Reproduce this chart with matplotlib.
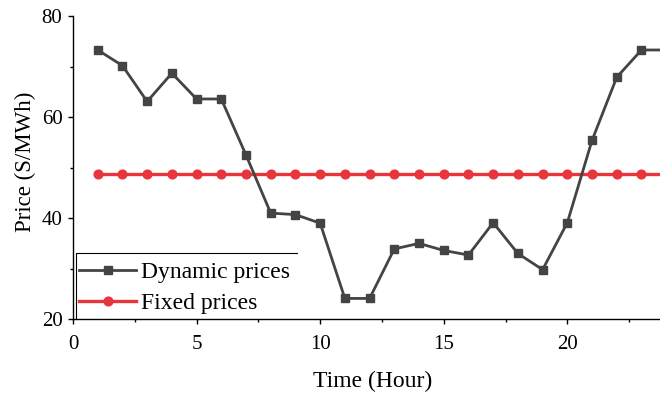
import matplotlib.pyplot as plt
from matplotlib.ticker import MultipleLocator

# hourly data
hours = list(range(1, 25))
dynamic_prices = [73.3, 70.2, 63.1, 68.7, 63.6, 63.6, 52.5, 41.0, 40.7, 39.0,
                  24.1, 24.1, 33.9, 35.0, 33.6, 32.7, 39.1, 33.0, 29.8, 39.1,
                  55.4, 67.9, 73.3, 73.3]
fixed_prices = [48.8] * 24

plt.rcParams['font.family'] = ['Liberation Serif', 'DejaVu Serif']

fig = plt.figure(figsize=(6.6, 3.94), dpi=100)
ax = fig.add_axes([0.1106, 0.190, 0.8894, 0.769])

ax.plot(hours, dynamic_prices, color='#444444', marker='s', markersize=5.5,
        linewidth=2, label='Dynamic prices', zorder=3)
ax.plot(hours, fixed_prices, color='#e8353b', marker='o', markersize=6.3,
        linewidth=2.4, label='Fixed prices', zorder=2)

ax.set_xlim(0, 23.75)
ax.set_ylim(20, 80)
ax.xaxis.set_major_locator(MultipleLocator(5))
ax.xaxis.set_minor_locator(MultipleLocator(2.5))
ax.yaxis.set_major_locator(MultipleLocator(20))
ax.yaxis.set_minor_locator(MultipleLocator(10))
ax.tick_params(which='major', direction='out', length=3.6, width=1,
               labelsize=15)
ax.tick_params(axis='x', which='major', pad=7.5)
ax.tick_params(axis='y', which='major', pad=4)
ax.tick_params(which='minor', direction='out', length=2.2, width=1)

for side in ['top', 'right']:
    ax.spines[side].set_visible(False)
for side in ['left', 'bottom']:
    ax.spines[side].set_linewidth(1)

ax.set_xlabel('Time (Hour)', fontsize=17)
ax.xaxis.set_label_coords(0.51, -0.17)
ax.set_ylabel('Price (S/MWh)', fontsize=16.5)
ax.yaxis.set_label_coords(-0.063, 0.52)

leg = ax.legend(loc='lower left', bbox_to_anchor=(0.005, 0.004), fontsize=17,
                frameon=False, borderaxespad=0, handlelength=2.4,
                handletextpad=0.2, borderpad=0.15, labelspacing=0.4)

# only the top and left edges of the legend box show in the original
fig.canvas.draw()
bb = leg.get_window_extent().transformed(ax.transAxes.inverted())
top = bb.y1 + 5 / ax.bbox.height
ax.plot([bb.x0, bb.x0, bb.x1 + 4 / ax.bbox.width], [0, top, top],
        transform=ax.transAxes, color='black', linewidth=0.8, clip_on=False)

fig.savefig('out.png', dpi=100)
